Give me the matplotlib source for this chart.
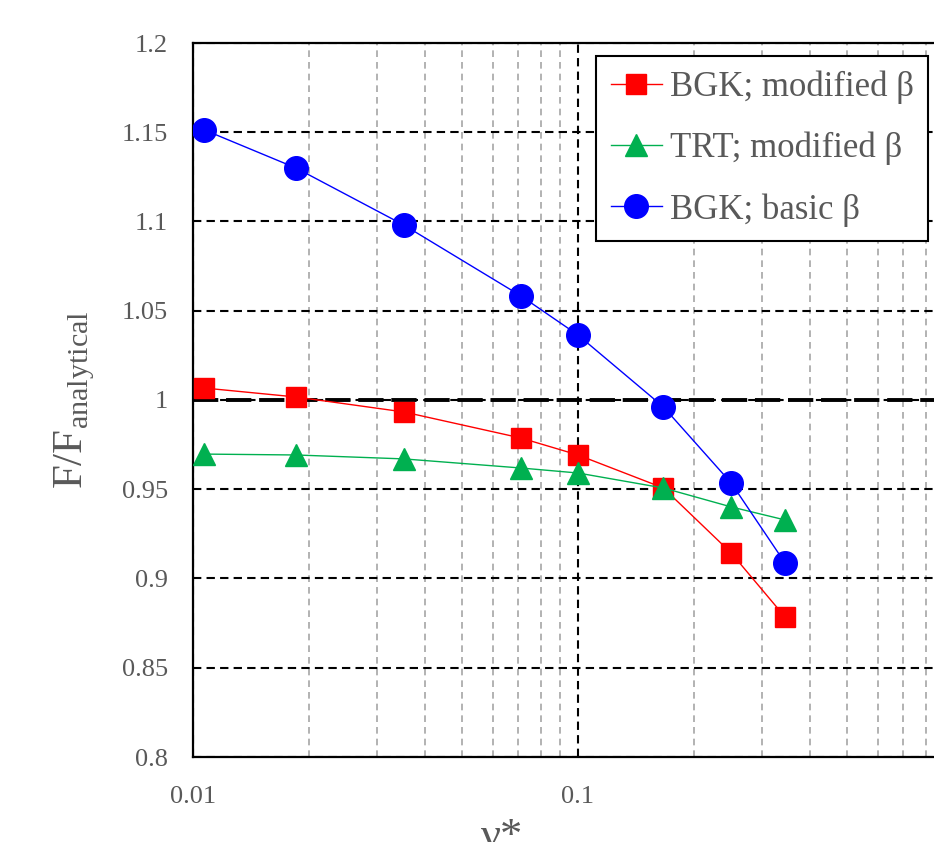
import numpy as np
import matplotlib
matplotlib.use("Agg")
import matplotlib.pyplot as plt
from matplotlib.ticker import FixedLocator, FuncFormatter, NullFormatter, LogLocator

# data
nu = [0.0107, 0.0185, 0.0353, 0.0711, 0.1, 0.1667, 0.25, 0.345]
bgk_mod = [1.0067, 1.0017, 0.9933, 0.9787, 0.9692, 0.9507, 0.9143, 0.8784]
trt_mod = [0.9697, 0.9692, 0.9670, 0.9619, 0.9591, 0.9507, 0.9401, 0.9328]
bgk_basic = [1.1513, 1.1300, 1.0980, 1.0583, 1.0364, 0.9961, 0.9535, 0.9087]
y_ticks = [0.8, 0.85, 0.9, 0.95, 1.0, 1.05, 1.1, 1.15, 1.2]
x_ticks = [0.01, 0.1]

plt.rcParams['font.family'] = ['Liberation Serif', 'DejaVu Serif']
plt.rcParams['mathtext.fontset'] = 'custom'
plt.rcParams['mathtext.rm'] = 'Liberation Serif'
text_col = '#595959'

fig = plt.figure(figsize=(9.34, 8.42), dpi=100)
# axes runs off the right edge like the cropped reference
ax = fig.add_axes([193 / 934, 85 / 842, 770 / 934, 714 / 842])
ax.set_xscale('log')
ax.set_xlim(0.01, 1)
ax.set_ylim(0.8, 1.2)

ax.yaxis.set_major_locator(FixedLocator(y_ticks))
ax.yaxis.set_major_formatter(FuncFormatter(lambda v, p: f"{v:g}"))
ax.xaxis.set_major_locator(FixedLocator(x_ticks))
ax.xaxis.set_major_formatter(FuncFormatter(lambda v, p: f"{v:g}"))
ax.xaxis.set_minor_locator(LogLocator(base=10, subs=np.arange(2, 10)))
ax.xaxis.set_minor_formatter(NullFormatter())
ax.tick_params(which='both', length=0, labelsize=19, colors=text_col)
ax.tick_params(axis='y', pad=18)
ax.tick_params(axis='x', pad=21)

# grid
ax.grid(True, which='minor', axis='x', color='#a6a6a6', lw=1.2, linestyle=(0, (4, 3)))
ax.grid(True, which='major', axis='x', color='black', lw=1.5, linestyle=(0, (4, 2.5)))
ax.grid(True, which='major', axis='y', color='black', lw=1.5, linestyle=(0, (4, 2.5)))
ax.set_axisbelow(True)
ax.axhline(1.0, color='black', lw=2.8, dashes=(6.5, 2.0), zorder=1.5)

for side in ['left', 'bottom', 'top']:
    ax.spines[side].set_linewidth(1.6)
    ax.spines[side].set_color('black')
ax.spines['right'].set_visible(False)

ax.plot(nu, bgk_mod, color='#ff0000', lw=1, marker='s', ms=15, label='BGK; modified β', zorder=3)
ax.plot(nu, trt_mod, color='#00b050', lw=1, marker='^', ms=16, label='TRT; modified β', zorder=3)
ax.plot(nu, bgk_basic, color='#0000ff', lw=1, marker='o', ms=17, label='BGK; basic β', zorder=3)

leg = ax.legend(loc='upper left', bbox_to_anchor=(0.5234, 0.9818), fontsize=25,
                frameon=True, fancybox=False, framealpha=1, edgecolor='black',
                handlelength=1.47, handletextpad=0.23, labelspacing=0.8,
                borderpad=0.42, borderaxespad=0)
leg.get_frame().set_linewidth(1.5)
for t in leg.get_texts():
    t.set_color(text_col)

ax.set_ylabel(r'F/F$_{\mathrm{analytical}}$', fontsize=31, color=text_col)
ax.yaxis.set_label_coords(-0.125, 0.5)
ax.set_xlabel('ν*', fontsize=32, color=text_col)
ax.xaxis.set_label_coords((502 - 193) / 770, -0.084)

fig.savefig('out.png', dpi=100)
